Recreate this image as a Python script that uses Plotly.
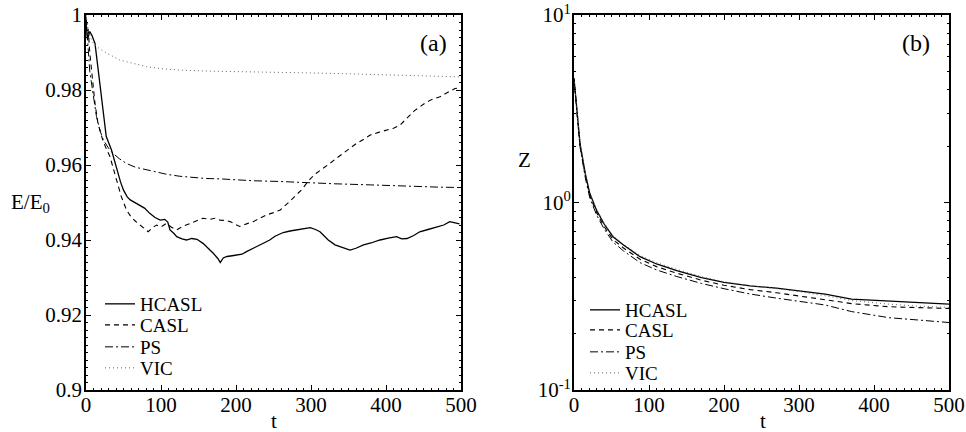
import plotly.graph_objects as go

# ---------------- data: panel (a) energy ----------------
t_hcasl_a = [0, 2, 5, 8, 12, 16, 21, 27, 34, 41, 46, 50, 55, 59, 65, 72, 78, 85, 92, 99,
             105, 109, 112, 117, 121, 128, 134, 141, 148, 156, 163, 170, 176, 179, 183, 188,
             195, 201, 208, 214, 223, 232, 245, 252, 263, 272, 281, 290, 299, 306, 312, 318,
             323, 332, 342, 352, 360, 370, 380, 392, 403, 414, 421, 428, 437, 445, 456, 468,
             477, 485, 490, 494, 498]
e_hcasl = [0.998, 0.9935, 0.9956, 0.9945, 0.9924, 0.986, 0.978, 0.9676, 0.964, 0.9587, 0.9555,
           0.9533, 0.9515, 0.9507, 0.9500, 0.9493, 0.9485, 0.9471, 0.9460, 0.9453, 0.9455,
           0.9448, 0.9427, 0.9418, 0.9409, 0.9403, 0.9400, 0.9404, 0.9402, 0.9391, 0.9378,
           0.9364, 0.9350, 0.9340, 0.9352, 0.9356, 0.9358, 0.9360, 0.9362, 0.9369, 0.9378,
           0.9387, 0.9400, 0.9410, 0.9420, 0.9424, 0.9427, 0.9430, 0.9433, 0.9428, 0.9422,
           0.9410, 0.9400, 0.9387, 0.9380, 0.9373, 0.9378, 0.9387, 0.9392, 0.9400, 0.9405,
           0.9409, 0.9403, 0.9404, 0.9412, 0.9422, 0.9428, 0.9436, 0.9440, 0.9449, 0.9447,
           0.9445, 0.9443]

t_casl_a = [0, 3, 5, 8, 12, 16, 23, 32, 41, 47, 54, 60, 66, 72, 78, 83, 88, 94, 100, 107, 114,
            121, 130, 139, 148, 156, 165, 172, 179, 186, 192, 199, 205, 214, 223, 232, 241, 250,
            259, 270, 281, 288, 294, 300, 307, 316, 325, 334, 343, 352, 361, 370, 379, 390, 401,
            410, 419, 425, 432, 438, 445, 452, 459, 466, 472, 479, 485, 492, 498]
e_casl = [0.9987, 0.996, 0.990, 0.9836, 0.9764, 0.971, 0.9662, 0.9622, 0.9560, 0.9516, 0.9480,
          0.9462, 0.9450, 0.9440, 0.9430, 0.9422, 0.9432, 0.9440, 0.9435, 0.9444, 0.9434,
          0.9427, 0.9437, 0.9444, 0.9450, 0.9458, 0.9455, 0.9458, 0.9453, 0.9452, 0.9449,
          0.9442, 0.9436, 0.9443, 0.9449, 0.9458, 0.9467, 0.9473, 0.9480, 0.9500, 0.9520,
          0.9535, 0.9551, 0.9565, 0.9578, 0.9590, 0.9604, 0.9618, 0.9631, 0.9645, 0.9658,
          0.9668, 0.9680, 0.9687, 0.9693, 0.9698, 0.9707, 0.9718, 0.9733, 0.9745, 0.9756,
          0.9765, 0.9773, 0.9778, 0.9782, 0.9790, 0.9796, 0.9804, 0.9806]

t_ps_a = [0, 3, 5, 8, 14, 19, 23, 30, 36, 45, 54, 66, 81, 95, 108, 125, 143, 160, 179, 200,
          223, 259, 290, 330, 379, 430, 470, 500]
e_ps = [0.9996, 0.9907, 0.985, 0.9809, 0.9729, 0.9690, 0.9667, 0.9645, 0.9631, 0.9616, 0.9604,
        0.9594, 0.9587, 0.9580, 0.9575, 0.9570, 0.9566, 0.9564, 0.9563, 0.9560, 0.9558, 0.9556,
        0.9553, 0.9550, 0.9547, 0.9543, 0.9541, 0.9540]

t_vic_a = [0, 3, 6, 10, 18, 28, 45, 63, 81, 100, 125, 170, 210, 259, 334, 423, 460, 500]
e_vic = [1.0, 0.996, 0.9940, 0.9924, 0.9910, 0.9898, 0.9880, 0.9870, 0.9862, 0.9857, 0.9853,
         0.9850, 0.9848, 0.9847, 0.9844, 0.9840, 0.9838, 0.9835]

# ---------------- data: panel (b) enstrophy ----------------
t_b = [0, 4, 8, 15, 21, 30, 40, 52, 66, 88, 110, 137, 170, 200, 235, 270, 300, 335, 370, 420,
       460, 500]
z_hcasl = [4.6, 3.1, 2.07, 1.43, 1.12, 0.91, 0.77, 0.657, 0.593, 0.514, 0.47, 0.433, 0.397,
           0.375, 0.359, 0.349, 0.339, 0.325, 0.305, 0.299, 0.294, 0.287]
z_casl = [4.6, 3.05, 2.02, 1.40, 1.09, 0.885, 0.745, 0.635, 0.572, 0.498, 0.455, 0.420, 0.385,
          0.362, 0.343, 0.330, 0.318, 0.303, 0.289, 0.278, 0.275, 0.272]
z_ps = [4.5, 3.0, 1.98, 1.36, 1.06, 0.86, 0.725, 0.615, 0.552, 0.478, 0.437, 0.403, 0.370,
        0.347, 0.325, 0.309, 0.297, 0.284, 0.262, 0.243, 0.236, 0.229]
z_vic = [4.6, 3.1, 2.08, 1.44, 1.13, 0.92, 0.78, 0.665, 0.600, 0.522, 0.478, 0.440, 0.402,
         0.378, 0.360, 0.347, 0.335, 0.318, 0.300, 0.287, 0.280, 0.276]

names = ["HCASL", "CASL", "PS", "VIC"]
x_ticks = [0, 100, 200, 300, 400, 500]
y_ticks_a = [0.9, 0.92, 0.94, 0.96, 0.98, 1.0]
y_ticklabels_a = ["0.9", "0.92", "0.94", "0.96", "0.98", "1"]
y_ticks_b = [0.1, 1, 10]
y_ticklabels_b = ["10<sup>-1</sup>", "10<sup>0</sup>", "10<sup>1</sup>"]

FONT = "Liberation Serif"
W, H = 966, 432

styles = [
    dict(color="black", width=1.3, dash="solid"),
    dict(color="black", width=1.1, dash="5px,4px"),
    dict(color="black", width=1.0, dash="8px,3px,2px,3px"),
    dict(color="#666666", width=1.0, dash="1px,3px"),
]

fig = go.Figure()

series_a = [(t_hcasl_a, e_hcasl), (t_casl_a, e_casl), (t_ps_a, e_ps), (t_vic_a, e_vic)]
series_b = [(t_b, z_hcasl), (t_b, z_casl), (t_b, z_ps), (t_b, z_vic)]

for i, (tx, ty) in enumerate(series_a):
    fig.add_trace(go.Scatter(x=tx, y=ty, mode="lines", name=names[i], line=styles[i],
                             xaxis="x", yaxis="y", legend="legend" if i == 0 else f"legend{i+1}"))
for i, (tx, ty) in enumerate(series_b):
    fig.add_trace(go.Scatter(x=tx, y=ty, mode="lines", name=names[i], line=styles[i],
                             xaxis="x2", yaxis="y2", legend=f"legend{i+5}"))

def px(x):
    return x / W

def py(y):
    return 1 - y / H

ydom = [py(390), py(15)]
axis_common = dict(showline=True, linecolor="black", linewidth=1.8, mirror="allticks",
                   ticks="inside", ticklen=5, tickwidth=1.2, tickcolor="black",
                   showgrid=False, zeroline=False, automargin=False,
                   tickfont=dict(family=FONT, size=21, color="black"))
minor_lin_x = dict(dtick=10, ticks="inside", ticklen=2.5, tickcolor="black", tickwidth=1)

fig.update_layout(
    width=W, height=H,
    margin=dict(l=0, r=0, t=0, b=0),
    paper_bgcolor="white", plot_bgcolor="white",
    font=dict(family=FONT, color="black"),
    xaxis=dict(domain=[px(86), px(461)], range=[0, 500], tickvals=x_ticks, anchor="y",
               minor=minor_lin_x, ticklabelstandoff=-5, **axis_common),
    yaxis=dict(domain=ydom, range=[0.9, 1.0], tickvals=y_ticks_a, ticktext=y_ticklabels_a,
               anchor="x", ticklabelstandoff=-2,
               minor=dict(dtick=0.002, ticks="inside", ticklen=2.5, tickcolor="black", tickwidth=1),
               **axis_common),
    xaxis2=dict(domain=[px(574), px(949)], range=[0, 500], tickvals=x_ticks, anchor="y2",
                minor=minor_lin_x, ticklabelstandoff=-5, **axis_common),
    yaxis2=dict(domain=ydom, type="log", range=[-1, 1], tickvals=y_ticks_b,
                ticktext=y_ticklabels_b, anchor="x2", ticklabelstandoff=-3,
                minor=dict(tickvals=[0.2, 0.3, 0.4, 0.5, 0.6, 0.7, 0.8, 0.9,
                                     2, 3, 4, 5, 6, 7, 8, 9],
                           ticks="inside", ticklen=2.5, tickcolor="black", tickwidth=1),
                **axis_common),
    showlegend=True,
)

# one legend per entry so rows can be spaced like the original
rows_a = [304, 325, 347, 368]
rows_b = [310, 330, 352, 373]
for i in range(8):
    key = "legend" if i == 0 else f"legend{i+1}"
    if i < 4:
        lx, ly = 100, rows_a[i]
    else:
        lx, ly = 585, rows_b[i - 4]
    fig.update_layout({key: dict(x=px(lx), y=py(ly), xanchor="left", yanchor="middle",
                                 bgcolor="rgba(0,0,0,0)", borderwidth=0, itemwidth=30,
                                 font=dict(family=FONT, size=19, color="black"))})

ann_font = dict(family=FONT, size=21, color="black")
annotations = [
    dict(x=px(9), y=py(203), text="E/E<sub>0</sub>", xanchor="left", yanchor="middle"),
    dict(x=px(524), y=py(160), text="Z", xanchor="center", yanchor="middle"),
    dict(x=px(273.5), y=py(421), text="t", xanchor="center", yanchor="middle"),
    dict(x=px(763), y=py(421), text="t", xanchor="center", yanchor="middle"),
    dict(x=px(433), y=py(43), text="(a)", xanchor="center", yanchor="middle",
         font=dict(family=FONT, size=24, color="black")),
    dict(x=px(916), y=py(43), text="(b)", xanchor="center", yanchor="middle",
         font=dict(family=FONT, size=24, color="black")),
]
for a in annotations:
    a.setdefault("font", ann_font)
    a.update(xref="paper", yref="paper", showarrow=False)
fig.update_layout(annotations=annotations)

fig.write_html("out.html", config={"displayModeBar": False},
               post_script="document.body.style.margin='0';document.body.style.padding='0';")
